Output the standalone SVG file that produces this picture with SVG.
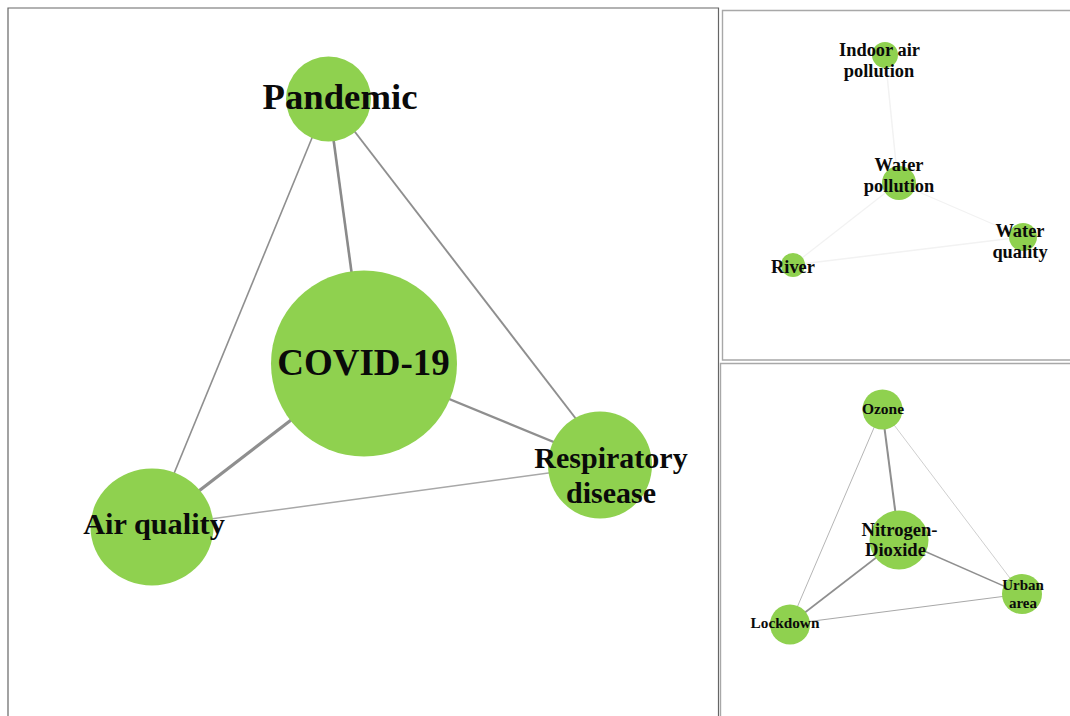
<svg xmlns="http://www.w3.org/2000/svg" width="1070" height="716" viewBox="0 0 1070 716">
<style>
.frame{fill:none;stroke:#666;stroke-width:1.2}
.frame2{fill:none;stroke:#a8a8a8;stroke-width:1.4}
.n{fill:#8fd14f}
text{font-family:"Liberation Serif","Times New Roman",serif;font-weight:bold;fill:#0a0a0a;text-anchor:middle}
.e{stroke:#8f8f8f;fill:none;stroke-linecap:butt}
.f{stroke:#f2f2f2;fill:none}
</style>
<rect width="1070" height="716" fill="#fff"/>
<g id="frames">
<path class="frame" d="M718.5 716V8H8V716"/>
<path class="frame2" d="M1070 10.500H722.500V360H1070"/>
<path class="frame2" d="M1070 363.500H720.500V716"/>
</g>
<g id="connectors">
<line class="e" x1="328" y1="99" x2="152" y2="527" stroke-width="1.6"/>
<line class="e" x1="328" y1="99" x2="364" y2="364" stroke-width="2.6" style="stroke:#8a8a8a"/>
<line class="e" x1="335" y1="106" x2="600" y2="450" stroke-width="1.9"/>
<line class="e" x1="364" y1="364" x2="152" y2="527" stroke-width="3.2"/>
<line class="e" x1="364" y1="364" x2="600" y2="461" stroke-width="2.4"/>
<line class="e" x1="152" y1="527" x2="600" y2="466" stroke-width="1.5" style="stroke:#a8a8a8"/>
<line class="f" x1="885" y1="55" x2="898" y2="183" stroke-width="1.5"/>
<line class="f" x1="898" y1="183" x2="793" y2="265" stroke-width="1.2"/>
<line class="f" x1="898" y1="183" x2="1023" y2="237" stroke-width="1.2"/>
<line class="f" x1="793" y1="265" x2="1023" y2="237" stroke-width="1.5"/>
<line class="e" x1="882" y1="409" x2="790" y2="624" stroke-width="1" style="stroke:#b5b5b5"/>
<line class="e" x1="882" y1="409" x2="899" y2="540" stroke-width="2"/>
<line class="e" x1="882" y1="409" x2="1022" y2="594" stroke-width="1" style="stroke:#cfcfcf"/>
<line class="e" x1="899" y1="540" x2="790" y2="624" stroke-width="1.6"/>
<line class="e" x1="899" y1="540" x2="1022" y2="594" stroke-width="1.5"/>
<line class="e" x1="790" y1="624" x2="1022" y2="594" stroke-width="1.1" style="stroke:#a8a8a8"/>
</g>
<g id="node-covid-19"><circle class="n" cx="364" cy="363.500" r="93"/><text x="363.500" y="375" font-size="37">COVID-19</text></g>
<g id="node-pandemic"><circle class="n" cx="328.500" cy="99" r="42.500"/><text x="340" y="109" font-size="36.700">Pandemic</text></g>
<g id="node-air-quality"><ellipse class="n" cx="152" cy="527" rx="61.500" ry="58.500"/><text x="154" y="534" font-size="30.300">Air quality</text></g>
<g id="node-respiratory-disease"><ellipse class="n" cx="600" cy="465" rx="52" ry="53.500"/><text x="611" y="468" font-size="30">Respiratory</text><text x="611" y="503" font-size="30">disease</text></g>
<g id="node-indoor-air-pollution"><circle class="n" cx="885" cy="55" r="13"/><text x="879.500" y="55.700" font-size="18.400">Indoor air</text><text x="879" y="76.700" font-size="18.400">pollution</text></g>
<g id="node-water-pollution"><circle class="n" cx="899" cy="183" r="17"/><text x="899" y="170.700" font-size="18.400">Water</text><text x="899" y="191.700" font-size="18.400">pollution</text></g>
<g id="node-water-quality"><circle class="n" cx="1023" cy="237" r="14"/><text x="1020" y="236.700" font-size="18.400">Water</text><text x="1020" y="257.700" font-size="18.400">quality</text></g>
<g id="node-river"><circle class="n" cx="793" cy="265" r="12"/><text x="793" y="272.700" font-size="18.400">River</text></g>
<g id="node-ozone"><circle class="n" cx="882.500" cy="409.500" r="20"/><text x="883" y="413.500" font-size="15.500">Ozone</text></g>
<g id="node-nitrogen-dioxide"><circle class="n" cx="899" cy="540" r="29.500"/><text x="899.500" y="535.700" font-size="18.600">Nitrogen-</text><text x="895.500" y="555.700" font-size="18.600">Dioxide</text></g>
<g id="node-urban-area"><circle class="n" cx="1022" cy="594" r="20"/><text x="1023" y="589.500" font-size="15">Urban</text><text x="1023" y="607.500" font-size="15">area</text></g>
<g id="node-lockdown"><circle class="n" cx="790" cy="624.500" r="20"/><text x="785" y="627.500" font-size="15.300">Lockdown</text></g>
</svg>
